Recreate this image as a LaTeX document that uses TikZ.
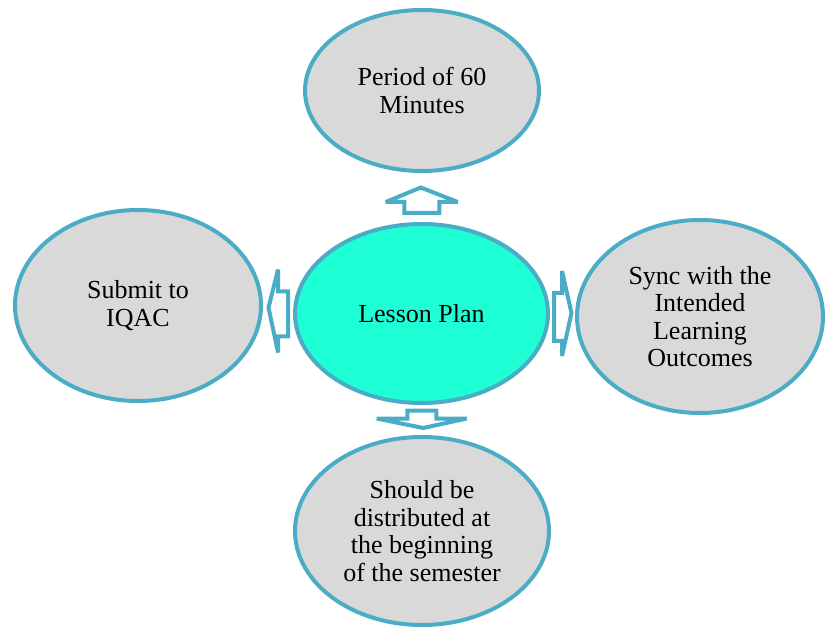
\documentclass[tikz,border=0pt]{standalone}
\usepackage{fontspec}
\setmainfont{Liberation Serif}
\usetikzlibrary{shapes.geometric,calc}
\definecolor{rimteal}{RGB}{75,172,198}
\definecolor{softgray}{RGB}{217,217,217}
\definecolor{coreaqua}{RGB}{30,255,214}
\tikzset{
  bubble/.style={ellipse, draw=rimteal, line width=4pt, fill=softgray,
    align=center, text=black, inner sep=0pt, outer sep=0pt,
    font=\fontsize{26}{27.5}\selectfont},
  core/.style={bubble, fill=coreaqua},
  blockarrow/.style={draw=rimteal, fill=white, line width=4pt,
    line join=miter, miter limit=2.5}
}
\begin{document}
\begin{tikzpicture}[x=1pt, y=-1pt]
  \useasboundingbox (0,0) rectangle (825,628);

  % central idea and its four satellites
  \node[core, minimum width=253, minimum height=179] (lp) at (421.5,313.5) {Lesson Plan};
  \node[bubble, minimum width=234, minimum height=161] (top) at (422,90.5) {Period of 60\\Minutes};
  \node[bubble, minimum width=246, minimum height=191] (lft) at (138,305.5) {Submit to\\IQAC};
  \node[bubble, minimum width=246, minimum height=193] (rgt) at (700,316.5) {Sync with the\\Intended\\Learning\\Outcomes};
  \node[bubble, minimum width=254, minimum height=188] (bot) at (422,531) {Should be\\distributed at\\the beginning\\of the semester};

  % anchor points for the hollow block arrows between the ellipses
  \coordinate (mUp)    at ($(top.south)!0.5!(lp.north)$);
  \coordinate (mDown)  at ($(lp.south)!0.5!(bot.north)$);
  \coordinate (mRight) at ($(lp.east)!0.5!(rgt.west)$);
  \coordinate (mLeft)  at ($(lft.east)!0.5!(lp.west)$);

  % up arrow
  \begin{scope}[shift={(mUp)}]
    \draw[blockarrow] (-17.5,15.5) -- (-17.5,4.5) -- (-36,4.5) -- (-1,-10)
      -- (36,4.5) -- (17.5,4.5) -- (17.5,15.5) -- cycle;
  \end{scope}

  % down arrow
  \begin{scope}[shift={(mDown)}]
    \draw[blockarrow] (-14.5,-9.5) -- (14.5,-9.5) -- (14.5,-1.5) -- (45,-1.5)
      -- (1.5,8) -- (-45,-1.5) -- (-14.5,-1.5) -- cycle;
  \end{scope}

  % right arrow
  \begin{scope}[shift={(mRight)}]
    \draw[blockarrow] (-8.5,-22) -- (-0.5,-22) -- (-0.5,-44) -- (9,-2)
      -- (-0.5,41) -- (-0.5,26) -- (-8.5,26) -- cycle;
  \end{scope}

  % left arrow
  \begin{scope}[shift={(mLeft)}]
    \draw[blockarrow] (10,-18) -- (0,-18) -- (0,-40) -- (-9.5,-2)
      -- (0,43) -- (0,27) -- (10,27) -- cycle;
  \end{scope}
\end{tikzpicture}
\end{document}
